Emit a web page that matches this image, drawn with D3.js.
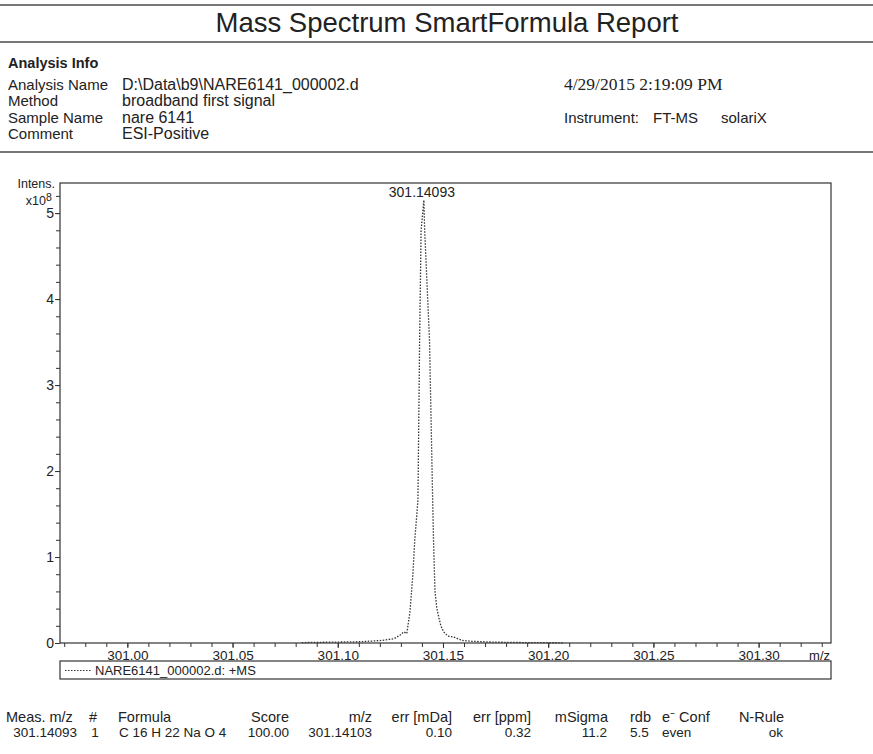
<!DOCTYPE html>
<html><head><meta charset="utf-8">
<script src="https://cdn.jsdelivr.net/npm/d3@7"></script>
<style>
html,body{margin:0;padding:0;background:#fff;}
svg{display:block;font-family:"Liberation Sans",Arial,sans-serif;}
</style></head>
<body><svg id="c" width="873" height="754"></svg>
<script>
// ---------- data ----------
const infoLabels = ["Analysis Name", "Method", "Sample Name", "Comment"];
const infoValues = ["D:\\Data\\b9\\NARE6141_000002.d", "broadband first signal", "nare 6141", "ESI-Positive"];
const acqDate = "4/29/2015 2:19:09 PM";
const instrumentParts = ["Instrument:", "FT-MS", "solariX"];
// spectrum profile (m/z, intensity)
const mzValues = [301.0829, 301.0972, 301.1114, 301.1209, 301.1267, 301.1295, 301.1314, 301.1328,
  301.1343, 301.1357, 301.1366, 301.1381, 301.1389, 301.1396, 301.14093, 301.1413, 301.1436,
  301.1451, 301.1455, 301.1462, 301.1471, 301.1481, 301.1490, 301.1503, 301.1523, 301.1551,
  301.1590, 301.1637, 301.1742, 301.1885, 301.2075];
const intensities = [0.005e8, 0.01e8, 0.015e8, 0.03e8, 0.05e8, 0.09e8, 0.13e8, 0.11e8,
  0.36e8, 0.8e8, 1.2e8, 1.66e8, 3.52e8, 4.8e8, 5.15e8, 4.8e8, 3.52e8,
  1.66e8, 1.2e8, 0.6e8, 0.4e8, 0.29e8, 0.2e8, 0.13e8, 0.08e8, 0.07e8,
  0.03e8, 0.02e8, 0.01e8, 0.005e8, 0.002e8];
const peakMz = 301.14093;
const peakLabel = "301.14093";
const xTickValues = [301.00, 301.05, 301.10, 301.15, 301.20, 301.25, 301.30];
const yTickValues = [0, 1, 2, 3, 4, 5];
const legendLabel = "NARE6141_000002.d: +MS";
const tableHeaders = ["Meas. m/z", "#", "Formula", "Score", "m/z", "err [mDa]", "err [ppm]", "mSigma", "rdb", "e\u207B Conf", "N-Rule"];
const tableRow = ["301.14093", "1", "C 16 H 22 Na O 4", "100.00", "301.14103", "0.10", "0.32", "11.2", "5.5", "even", "ok"];

// ---------- layout ----------
const svg = d3.select("#c");
const ink = "#222";
const plot = {l: 60, r: 831, t: 183, b: 643};

// header rules
[[5, 2], [42, 2], [152, 2]].forEach(([y, w]) => {
  svg.append("line").attr("x1", 0).attr("x2", 873).attr("y1", y).attr("y2", y)
    .attr("stroke", "#777").attr("stroke-width", w);
});
svg.append("text").attr("x", 447).attr("y", 32).attr("text-anchor", "middle")
  .attr("font-size", 27.5).attr("fill", ink).text("Mass Spectrum SmartFormula Report");

svg.append("text").attr("x", 8).attr("y", 68).attr("font-size", 14.5).attr("font-weight", "bold")
  .attr("fill", ink).text("Analysis Info");
infoLabels.forEach((t, i) => {
  const y = 90 + i * 16.3;
  svg.append("text").attr("x", 8).attr("y", y).attr("font-size", 15).attr("fill", ink).text(t);
  svg.append("text").attr("x", 122).attr("y", y).attr("font-size", 16).attr("fill", ink).text(infoValues[i]);
});
svg.append("text").attr("x", 564).attr("y", 90).attr("font-size", 17.5)
  .attr("font-family", "'Liberation Serif',serif").attr("fill", ink).text(acqDate);
[564, 653, 721].forEach((xx, i) => {
  svg.append("text").attr("x", xx).attr("y", 122.6).attr("font-size", 15).attr("fill", ink).text(instrumentParts[i]);
});

// ---------- scales ----------
const x = d3.scaleLinear().domain([300.968, 301.3344]).range([plot.l, plot.r]);
const y = d3.scaleLinear().domain([0, 5.35e8]).range([plot.b, plot.t]);

// frame
svg.append("rect").attr("x", plot.l).attr("y", plot.t).attr("width", plot.r - plot.l)
  .attr("height", plot.b - plot.t).attr("fill", "none").attr("stroke", "#333").attr("stroke-width", 1.2);

// y axis
const yMinor = d3.range(0, 27).map(i => i * 0.2e8);
svg.append("g").attr("transform", `translate(${plot.l},0)`)
  .call(d3.axisLeft(y).tickValues(yMinor).tickSize(4).tickFormat(""))
  .call(g => g.select(".domain").remove())
  .call(g => g.selectAll("line").attr("stroke", "#333"));
svg.append("g").attr("transform", `translate(${plot.l},0)`)
  .call(d3.axisLeft(y).tickValues(yTickValues.map(v => v * 1e8)).tickSize(5).tickPadding(1)
    .tickFormat(d => d3.format("d")(d / 1e8)))
  .call(g => g.select(".domain").remove())
  .call(g => g.selectAll("line").attr("stroke", "#333"))
  .call(g => g.selectAll("text").attr("font-size", 14).attr("fill", ink)
    .attr("font-family", "'Liberation Sans',Arial,sans-serif"));
svg.append("text").attr("x", 55).attr("y", 188).attr("text-anchor", "end").attr("font-size", 12.5)
  .attr("fill", ink).text("Intens.");
svg.append("text").attr("x", 46).attr("y", 205).attr("text-anchor", "end").attr("font-size", 12.5)
  .attr("fill", ink).text("x10");
svg.append("text").attr("x", 46).attr("y", 201).attr("font-size", 10.5).attr("fill", ink).text("8");

// x axis
const xMinor = d3.range(0, 37).map(i => 300.97 + i * 0.01).filter(v => v < 301.334);
svg.append("g").attr("transform", `translate(0,${plot.b})`)
  .call(d3.axisBottom(x).tickValues(xMinor).tickSize(4).tickFormat(""))
  .call(g => g.select(".domain").remove())
  .call(g => g.selectAll("line").attr("stroke", "#333"));
svg.append("g").attr("transform", `translate(0,${plot.b})`)
  .call(d3.axisBottom(x).tickValues(xTickValues).tickSize(5).tickPadding(2).tickFormat(d3.format(".2f")))
  .call(g => g.select(".domain").remove())
  .call(g => g.selectAll("line").attr("stroke", "#333"))
  .call(g => g.selectAll("text").attr("font-size", 13.5).attr("fill", ink)
    .attr("font-family", "'Liberation Sans',Arial,sans-serif"));
svg.append("text").attr("x", 830).attr("y", 660).attr("text-anchor", "end").attr("font-size", 13)
  .attr("fill", ink).text("m/z");

// spectrum line
const pts = mzValues.map((m, i) => [m, intensities[i]]);
svg.append("path").datum(pts)
  .attr("d", d3.line().x(d => x(d[0])).y(d => y(d[1])))
  .attr("fill", "none").attr("stroke", "#333").attr("stroke-width", 1.3)
  .attr("stroke-dasharray", "1.5,1.5");
svg.append("text").attr("x", x(peakMz) - 2).attr("y", 197).attr("text-anchor", "middle")
  .attr("font-size", 14).attr("fill", ink).text(peakLabel);

// legend box
svg.append("rect").attr("x", plot.l).attr("y", 661).attr("width", plot.r - plot.l).attr("height", 18)
  .attr("fill", "none").attr("stroke", "#333").attr("stroke-width", 1.2);
svg.append("line").attr("x1", 65).attr("x2", 91).attr("y1", 670.5).attr("y2", 670.5)
  .attr("stroke", "#333").attr("stroke-dasharray", "1.5,1.5");
svg.append("text").attr("x", 95).attr("y", 675).attr("font-size", 13).attr("fill", ink).text(legendLabel);

// results table
const colX = [6, 89, 118, 289, 372, 452, 531, 608, 630, 662, 784];
const hdrAnchor = ["start", "start", "start", "end", "end", "end", "end", "end", "start", "start", "end"];
const rowX = [77, 95, 119, 289, 372, 452, 531, 607, 630, 662, 783];
const rowAnchor = ["end", "middle", "start", "end", "end", "end", "end", "end", "start", "start", "end"];
tableHeaders.forEach((h, i) => {
  svg.append("text").attr("x", colX[i]).attr("y", 722).attr("text-anchor", hdrAnchor[i])
    .attr("font-size", 14.5).attr("fill", ink).text(h);
});
tableRow.forEach((v, i) => {
  svg.append("text").attr("x", rowX[i]).attr("y", 737).attr("text-anchor", rowAnchor[i])
    .attr("font-size", 13.5).attr("fill", ink).text(v);
});
</script></body></html>
